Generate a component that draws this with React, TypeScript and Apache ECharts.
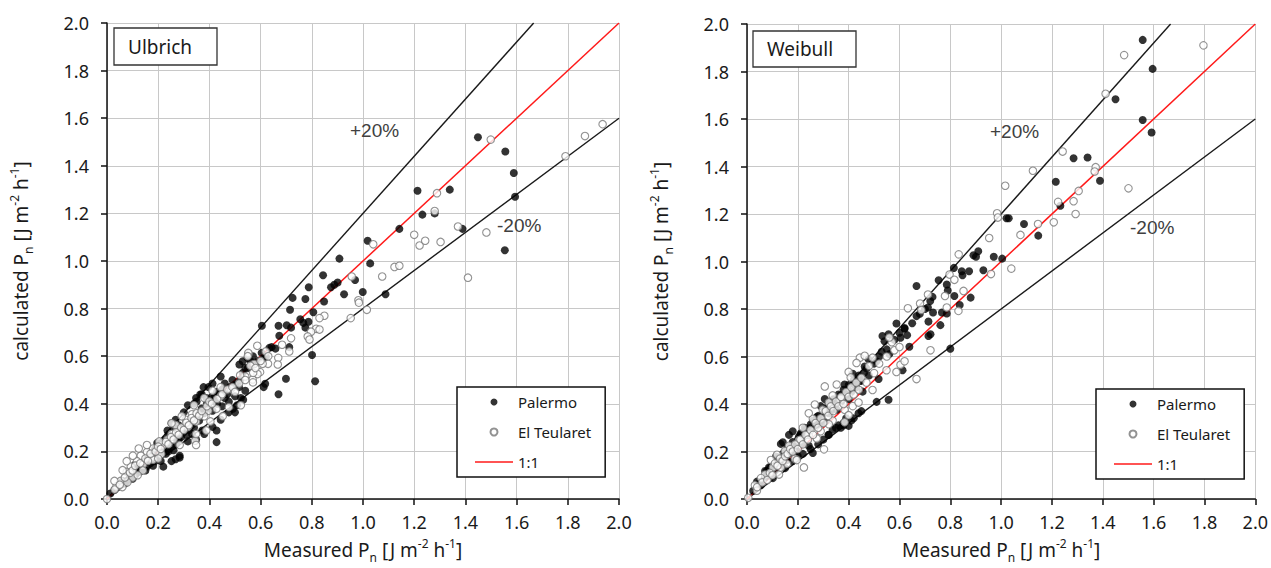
import React, { useEffect, useRef } from "react";
import * as echarts from "echarts";

// Reference lines
const plus20Line = [[0, 0], [1.6667, 2]];
const minus20Line = [[0, 0], [2, 1.6]];
const oneToOneLine = [[0, 0], [2, 2]];

// Ulbrich panel
const ulbrichPalermo = [
  [1.449, 1.52], [1.556, 1.46], [1.589, 1.37], [1.594, 1.27], [1.554, 1.045], [1.213, 1.295], [1.339, 1.3],
  [1.232, 1.195], [1.28, 1.2], [1.389, 1.135], [1.142, 1.135], [1.018, 1.085], [1.028, 0.99], [0.908, 1.01],
  [0.844, 0.94], [0.969, 0.92], [0.999, 0.87], [1.088, 0.86], [0.926, 0.86], [0.788, 0.89], [0.775, 0.84],
  [0.848, 0.83], [0.875, 0.89], [0.888, 0.9], [0.901, 0.91], [0.725, 0.845], [0.715, 0.795], [0.806, 0.785],
  [0.755, 0.755], [0.767, 0.74], [0.787, 0.745], [0.775, 0.72], [0.702, 0.73], [0.719, 0.72], [0.67, 0.728],
  [0.605, 0.728], [0.673, 0.686], [0.643, 0.638], [0.658, 0.632], [0.634, 0.635], [0.712, 0.638], [0.604, 0.614],
  [0.621, 0.598], [0.612, 0.59], [0.801, 0.605], [0.813, 0.495], [0.699, 0.505], [0.618, 0.484], [0.612, 0.47],
  [0.67, 0.44], [0.549, 0.593], [0.517, 0.565], [0.54, 0.551], [0.53, 0.579],
  [0.444, 0.515], [0.377, 0.47], [0.412, 0.485], [0.46, 0.424], [0.523, 0.424], [0.54, 0.455], [0.492, 0.379],
  [0.428, 0.288], [0.428, 0.239], [0.364, 0.364], [0.372, 0.288], [0.332, 0.273], [0.268, 0.167], [0.284, 0.182],
  [0.22, 0.197], [0.196, 0.235], [0.252, 0.318], [0.236, 0.288], [0.268, 0.333], [0.3, 0.364], [0.316, 0.394],
  [0.348, 0.424], [0.364, 0.439], [0.396, 0.47], [0.388, 0.424], [0.404, 0.409], [0.42, 0.432], [0.476, 0.409],
  [0.5, 0.432], [0.516, 0.47], [0.46, 0.485],
  [0.061, 0.076], [0.093, 0.091], [0.124, 0.121], [0.156, 0.136], [0.188, 0.159], [0.22, 0.136], [0.252, 0.159],
  [0.284, 0.174], [0.26, 0.205], [0.316, 0.242], [0.348, 0.25], [0.38, 0.273], [0.412, 0.303], [0.444, 0.333],
  [0.476, 0.364], [0.508, 0.394], [0.5, 0.364], [0.532, 0.417], [0.412, 0.371], [0.332, 0.311], [0.3, 0.28],
  [0.268, 0.258], [0.228, 0.25], [0.236, 0.212], [0.188, 0.212], [0.164, 0.182], [0.109, 0.144], [0.045, 0.053],
  [0.013, 0.023], [0.029, 0.038],
  [0.07, 0.065], [0.08, 0.075], [0.1, 0.085], [0.11, 0.1], [0.13, 0.115], [0.14, 0.13], [0.15, 0.12], [0.17, 0.15],
  [0.18, 0.14], [0.2, 0.17], [0.21, 0.16], [0.23, 0.19], [0.24, 0.2], [0.25, 0.22], [0.27, 0.23], [0.28, 0.25],
  [0.29, 0.26], [0.3, 0.3], [0.31, 0.27], [0.32, 0.29], [0.33, 0.33], [0.34, 0.3], [0.35, 0.34], [0.36, 0.33],
  [0.37, 0.38], [0.38, 0.36], [0.39, 0.4], [0.4, 0.38], [0.41, 0.43], [0.42, 0.41], [0.43, 0.45], [0.44, 0.44],
  [0.45, 0.46], [0.43, 0.4], [0.45, 0.39], [0.47, 0.44], [0.48, 0.47], [0.49, 0.5], [0.5, 0.48], [0.52, 0.5],
  [0.53, 0.53], [0.55, 0.55], [0.56, 0.58], [0.58, 0.57], [0.57, 0.6], [0.59, 0.58], [0.35, 0.41], [0.34, 0.4],
  [0.37, 0.44], [0.26, 0.3], [0.28, 0.31], [0.24, 0.27], [0.22, 0.24], [0.18, 0.19], [0.16, 0.17], [0.12, 0.13],
  [0.09, 0.1]
];
const ulbrichTeularet = [
  [1.499, 1.51], [1.936, 1.575], [1.867, 1.525], [1.791, 1.44], [1.289, 1.285], [1.28, 1.21], [1.371, 1.145],
  [1.482, 1.12], [1.2, 1.11], [1.221, 1.065], [1.243, 1.085], [1.303, 1.08], [1.41, 0.93], [1.04, 1.07],
  [1.123, 0.975], [1.142, 0.98], [1.075, 0.935], [0.956, 0.935], [0.982, 0.835], [0.984, 0.825], [1.015, 0.795],
  [0.952, 0.76], [0.849, 0.77], [0.83, 0.76], [0.817, 0.715], [0.83, 0.712], [0.797, 0.703], [0.784, 0.683],
  [0.791, 0.67], [0.719, 0.675], [0.684, 0.648], [0.712, 0.62], [0.669, 0.593], [0.667, 0.565], [0.629, 0.568],
  [0.608, 0.568], [0.598, 0.533], [0.575, 0.567], [0.569, 0.502], [0.588, 0.525], [0.553, 0.61],
  [0.587, 0.644], [0.552, 0.614], [0.571, 0.53], [0.54, 0.515], [0.516, 0.485], [0.484, 0.462], [0.444, 0.432],
  [0.428, 0.379], [0.396, 0.371], [0.38, 0.348], [0.348, 0.326], [0.316, 0.303], [0.284, 0.288], [0.252, 0.273],
  [0.332, 0.356], [0.308, 0.333], [0.268, 0.311], [0.236, 0.25], [0.22, 0.227], [0.204, 0.242], [0.18, 0.212],
  [0.156, 0.197], [0.132, 0.182], [0.117, 0.159], [0.093, 0.136], [0.077, 0.114], [0.053, 0.076], [0.037, 0.053],
  [0, 0], [0.14, 0.144], [0.172, 0.174], [0.212, 0.189], [0.344, 0.245], [0.348, 0.227], [0.388, 0.288],
  [0.404, 0.326], [0.476, 0.386], [0.523, 0.394], [0.452, 0.348], [0.348, 0.273], [0.284, 0.227], [0.444, 0.47],
  [0.412, 0.455], [0.38, 0.424], [0.34, 0.394], [0.292, 0.348], [0.252, 0.318], [0.156, 0.227], [0.124, 0.212],
  [0.101, 0.182], [0.077, 0.159], [0.061, 0.121], [0.029, 0.076], [0.06, 0.05], [0.1, 0.09], [0.14, 0.12],
  [0.18, 0.165], [0.2, 0.17], [0.12, 0.1], [0.08, 0.07],
  [0.03, 0.04], [0.05, 0.06], [0.07, 0.09], [0.09, 0.11], [0.1, 0.12], [0.11, 0.14], [0.13, 0.15], [0.15, 0.17],
  [0.16, 0.16], [0.17, 0.19], [0.19, 0.2], [0.2, 0.22], [0.21, 0.21], [0.23, 0.24], [0.24, 0.23], [0.25, 0.26],
  [0.26, 0.25], [0.27, 0.28], [0.28, 0.27], [0.29, 0.3], [0.3, 0.29], [0.31, 0.32], [0.32, 0.31], [0.33, 0.34],
  [0.34, 0.33], [0.35, 0.36], [0.36, 0.35], [0.37, 0.37], [0.39, 0.39], [0.4, 0.41], [0.41, 0.4], [0.43, 0.42],
  [0.45, 0.44], [0.47, 0.46], [0.49, 0.47], [0.5, 0.45], [0.52, 0.52], [0.54, 0.5], [0.55, 0.6], [0.56, 0.56],
  [0.58, 0.55], [0.6, 0.58], [0.62, 0.62], [0.63, 0.6], [0.57, 0.49]
];

// Weibull panel
const weibullPalermo = [
  [1.557, 1.933], [1.596, 1.811], [1.45, 1.683], [1.557, 1.596], [1.592, 1.543], [1.285, 1.435], [1.34, 1.438],
  [1.389, 1.34], [1.215, 1.336], [1.233, 1.235], [1.021, 1.182], [1.03, 1.182], [1.09, 1.158], [1.146, 1.109],
  [0.971, 1.02], [1.004, 1.012], [0.891, 1.026], [0.91, 1.043], [0.901, 1.02], [0.93, 0.963], [0.874, 0.959],
  [0.845, 0.959], [0.848, 0.942], [0.814, 0.973], [0.88, 0.848], [0.837, 0.817], [0.816, 0.855], [0.754, 0.921],
  [0.786, 0.903], [0.79, 0.878], [0.73, 0.851], [0.721, 0.834], [0.667, 0.897], [0.732, 0.785], [0.767, 0.785],
  [0.786, 0.781], [0.712, 0.806],
  [0.667, 0.77], [0.714, 0.747], [0.761, 0.732], [0.722, 0.694], [0.714, 0.686], [0.8, 0.633], [0.557, 0.694],
  [0.533, 0.686], [0.541, 0.664], [0.588, 0.739], [0.62, 0.717], [0.604, 0.679], [0.639, 0.641], [0.612, 0.542],
  [0.518, 0.505], [0.51, 0.58], [0.478, 0.588], [0.463, 0.558], [0.557, 0.418], [0.51, 0.409], [0.439, 0.361],
  [0.4, 0.308], [0.369, 0.3], [0.337, 0.292], [0.322, 0.27], [0.259, 0.194], [0.243, 0.224], [0.212, 0.277],
  [0.22, 0.232], [0.18, 0.285], [0.165, 0.27], [0.141, 0.239], [0.133, 0.232], [0.086, 0.133], [0.071, 0.118],
  [0.102, 0.088], [0.055, 0.058], [0.275, 0.345], [0.29, 0.391], [0.306, 0.421], [0.416, 0.527], [0.424, 0.482],
  [0.447, 0.497], [0.455, 0.452], [0.384, 0.482], [0.369, 0.436], [0.4, 0.421], [0.353, 0.376], [0.322, 0.361],
  [0.306, 0.323], [0.284, 0.315], [0.251, 0.315], [0.227, 0.3], [0.204, 0.262], [0.196, 0.202], [0.173, 0.194],
  [0.157, 0.164], [0.126, 0.156], [0.114, 0.179], [0.078, 0.118], [0.039, 0.073], [0.024, 0.035], [0.38, 0.32],
  [0.41, 0.33], [0.36, 0.31], [0.39, 0.34],
  [0.05, 0.07], [0.07, 0.09], [0.08, 0.1], [0.09, 0.13], [0.1, 0.14], [0.11, 0.12], [0.12, 0.17], [0.13, 0.15],
  [0.14, 0.19], [0.15, 0.2], [0.16, 0.22], [0.17, 0.2], [0.18, 0.24], [0.19, 0.22], [0.2, 0.25], [0.21, 0.27],
  [0.22, 0.26], [0.23, 0.29], [0.24, 0.28], [0.25, 0.3], [0.26, 0.33], [0.27, 0.31], [0.28, 0.35], [0.29, 0.33],
  [0.3, 0.36], [0.31, 0.38], [0.32, 0.4], [0.33, 0.37], [0.34, 0.42], [0.35, 0.4], [0.36, 0.44], [0.37, 0.41],
  [0.38, 0.46], [0.39, 0.44], [0.4, 0.48], [0.41, 0.45], [0.42, 0.5], [0.43, 0.47], [0.44, 0.52], [0.45, 0.5],
  [0.46, 0.53], [0.47, 0.55], [0.48, 0.52], [0.5, 0.57], [0.52, 0.6], [0.53, 0.62], [0.55, 0.63], [0.56, 0.61],
  [0.58, 0.67], [0.6, 0.7], [0.62, 0.72], [0.63, 0.69], [0.65, 0.74], [0.68, 0.78], [0.7, 0.8],
  [0.35, 0.3], [0.38, 0.31], [0.42, 0.34], [0.45, 0.37], [0.3, 0.25], [0.32, 0.27], [0.28, 0.23], [0.25, 0.21],
  [0.22, 0.19], [0.2, 0.18], [0.18, 0.16], [0.15, 0.13]
];
const weibullTeularet = [
  [1.484, 1.869], [1.796, 1.91], [1.411, 1.706], [1.242, 1.463], [1.372, 1.397], [1.368, 1.379], [1.125, 1.382],
  [1.016, 1.319], [1.501, 1.308], [1.305, 1.297], [1.224, 1.251], [1.285, 1.254], [1.293, 1.2], [1.207, 1.165],
  [1.145, 1.158], [1.076, 1.112], [0.984, 1.203], [0.987, 1.185], [0.953, 1.099], [1.04, 0.97], [0.96, 0.947],
  [0.833, 1.03], [0.797, 0.945], [0.816, 0.923], [0.779, 0.855], [0.852, 0.876], [0.832, 0.792], [0.786, 0.806],
  [0.712, 0.861], [0.681, 0.823], [0.633, 0.803], [0.686, 0.796],
  [0.722, 0.626], [0.667, 0.505], [0.588, 0.535], [0.604, 0.565], [0.58, 0.626], [0.62, 0.58], [0.549, 0.542],
  [0.494, 0.459], [0.444, 0.595], [0.463, 0.603], [0.494, 0.595], [0.4, 0.535], [0.408, 0.512], [0.431, 0.573],
  [0.306, 0.474], [0.303, 0.209], [0.267, 0.398], [0.322, 0.406], [0.337, 0.436], [0.353, 0.482], [0.298, 0.376],
  [0.259, 0.338], [0.243, 0.361], [0.22, 0.3], [0.204, 0.247], [0.224, 0.133], [0.188, 0.17], [0.165, 0.224],
  [0.149, 0.202], [0.118, 0.186], [0.094, 0.164], [0.102, 0.133], [0.126, 0.103], [0.071, 0.103], [0.055, 0.088],
  [0.031, 0.058], [0.005, 0.005], [0.039, 0.035], [0.196, 0.164], [0.157, 0.148], [0.133, 0.133], [0.369, 0.421],
  [0.384, 0.376], [0.4, 0.353], [0.416, 0.391], [0.439, 0.406], [0.384, 0.323], [0.337, 0.33], [0.322, 0.315],
  [0.29, 0.285], [0.275, 0.255], [0.243, 0.27],
  [0.04, 0.05], [0.06, 0.07], [0.08, 0.08], [0.09, 0.11], [0.1, 0.1], [0.11, 0.15], [0.12, 0.14], [0.13, 0.17],
  [0.14, 0.16], [0.15, 0.18], [0.16, 0.19], [0.17, 0.21], [0.18, 0.2], [0.19, 0.23], [0.2, 0.21], [0.21, 0.25],
  [0.22, 0.23], [0.23, 0.27], [0.24, 0.25], [0.25, 0.29], [0.26, 0.27], [0.27, 0.32], [0.28, 0.3], [0.29, 0.34],
  [0.3, 0.32], [0.31, 0.37], [0.32, 0.35], [0.33, 0.39], [0.34, 0.37], [0.35, 0.41], [0.36, 0.39], [0.37, 0.43],
  [0.38, 0.4], [0.39, 0.45], [0.4, 0.43], [0.41, 0.47], [0.42, 0.44], [0.43, 0.49], [0.44, 0.46], [0.45, 0.51],
  [0.47, 0.49], [0.48, 0.56], [0.5, 0.53], [0.52, 0.57], [0.55, 0.6], [0.57, 0.66], [0.56, 0.68], [0.6, 0.64]
];

const FONT = "'Noto Sans', sans-serif";
const NOTE_FONT = "'Liberation Sans', Arial, sans-serif";
const TEXT_COLOR = "#1a1a1a";

const axisNameRich = {
  a: { fontSize: 19, color: TEXT_COLOR, fontFamily: FONT, lineHeight: 26 },
  sub: { fontSize: 12, color: TEXT_COLOR, fontFamily: FONT, lineHeight: 15, verticalAlign: "bottom" },
  sup: { fontSize: 12, color: TEXT_COLOR, fontFamily: FONT, lineHeight: 19, verticalAlign: "top" }
};
const xName = "{a|Measured P}{sub|n}{a| [J m}{sup|-2}{a| h}{sup|-1}{a|]}";
const yName = "{a|calculated P}{sub|n}{a| [J m}{sup|-2}{a| h}{sup|-1}{a|]}";

function makeAxis(gridIndex: number, isX: boolean) {
  return {
    type: "value",
    gridIndex,
    min: 0,
    max: 2,
    interval: 0.2,
    name: isX ? xName : yName,
    nameLocation: "middle",
    nameGap: isX ? 38 : 73,
    nameTextStyle: { rich: axisNameRich },
    axisLine: { show: true, onZero: false, lineStyle: { color: "#111", width: 1.5 } },
    axisTick: { show: true, inside: false, length: 6, lineStyle: { color: "#111", width: 1.5 } },
    splitLine: { show: true, lineStyle: { color: "#c8c8c8", width: 1 } },
    axisLabel: {
      formatter: (v: number) => v.toFixed(1),
      fontSize: 18,
      color: TEXT_COLOR,
      fontFamily: FONT,
      margin: isX ? 14 : 18
    }
  };
}

function panelSeries(idx: number, palermo: number[][], teularet: number[][]) {
  return [
    {
      name: "+20%", type: "line", xAxisIndex: idx, yAxisIndex: idx, data: plus20Line, symbol: "none",
      lineStyle: { color: "#1a1a1a", width: 1.4 }, z: 1, silent: true
    },
    {
      name: "-20%", type: "line", xAxisIndex: idx, yAxisIndex: idx, data: minus20Line, symbol: "none",
      lineStyle: { color: "#1a1a1a", width: 1.4 }, z: 1, silent: true
    },
    {
      name: "1:1", type: "line", xAxisIndex: idx, yAxisIndex: idx, data: oneToOneLine, symbol: "none",
      lineStyle: { color: "#ff1a1a", width: 1.5 }, itemStyle: { color: "#ff1a1a" }, z: 2
    },
    {
      name: "Palermo", type: "scatter", xAxisIndex: idx, yAxisIndex: idx, data: palermo, symbol: "circle",
      symbolSize: 8, itemStyle: { color: "#000", borderColor: "#000", borderWidth: 0 }, z: 3
    },
    {
      name: "El Teularet", type: "scatter", xAxisIndex: idx, yAxisIndex: idx, data: teularet, symbol: "circle",
      symbolSize: 7.5, itemStyle: { color: "#fff", borderColor: "#777", borderWidth: 1.1 }, z: 4
    }
  ];
}

function makeLegend(left: number, top: number) {
  return {
    left, top,
    orient: "vertical",
    data: [
      { name: "Palermo", icon: "circle" },
      { name: "El Teularet", icon: "circle" },
      { name: "1:1", icon: "path://M0,0H38V1.6H0Z", itemStyle: { color: "#ff1a1a", borderWidth: 0 } }
    ],
    itemWidth: 38,
    itemHeight: 7,
    itemGap: 12,
    symbolKeepAspect: true,
    padding: [6, 14, 6, 18],
    backgroundColor: "#fff",
    borderColor: "#111",
    borderWidth: 1.5,
    borderRadius: 0,
    selectedMode: false,
    textStyle: { fontSize: 15, color: TEXT_COLOR, fontFamily: FONT, lineHeight: 18 }
  };
}

function titleBox(x: number, y: number, w: number, h: number, label: string) {
  return {
    type: "group",
    children: [
      { type: "rect", shape: { x, y, width: w, height: h }, style: { fill: "#fff", stroke: "#333", lineWidth: 1.3 }, z: 10 },
      {
        type: "text", x: x + 14, y: y + h / 2, z: 11,
        style: { text: label, fontSize: 19, fontFamily: FONT, fill: TEXT_COLOR, verticalAlign: "middle", align: "left" }
      }
    ]
  };
}

function note(x: number, y: number, label: string) {
  return {
    type: "text", x, y, z: 11,
    style: { text: label, fontSize: 19, fontFamily: NOTE_FONT, fill: "#404040", verticalAlign: "middle", align: "left" }
  };
}

export default function App() {
  const ref = useRef<HTMLDivElement>(null);
  useEffect(() => {
    if (!ref.current) return;
    const chart = echarts.init(ref.current, undefined, { renderer: "svg" });
    chart.setOption({
      animation: false,
      backgroundColor: "#fff",
      grid: [
        { left: 107, top: 23, width: 512, height: 479 },
        { left: 747, top: 24, width: 512, height: 479 }
      ],
      xAxis: [makeAxis(0, true), makeAxis(1, true)],
      yAxis: [makeAxis(0, false), makeAxis(1, false)],
      legend: [makeLegend(457, 387), makeLegend(1096, 389)],
      series: [
        ...panelSeries(0, ulbrichPalermo, ulbrichTeularet),
        ...panelSeries(1, weibullPalermo, weibullTeularet)
      ],
      graphic: [
        titleBox(114, 28, 103, 37, "Ulbrich"),
        titleBox(753, 31, 103, 36, "Weibull"),
        note(350, 130, "+20%"),
        note(497, 225, "-20%"),
        note(990, 131, "+20%"),
        note(1130, 227, "-20%")
      ]
    });
    return () => chart.dispose();
  }, []);
  return (
    <div
      ref={ref}
      style={{ position: "fixed", left: 0, top: 0, width: 1271, height: 568, background: "#fff" }}
    />
  );
}
